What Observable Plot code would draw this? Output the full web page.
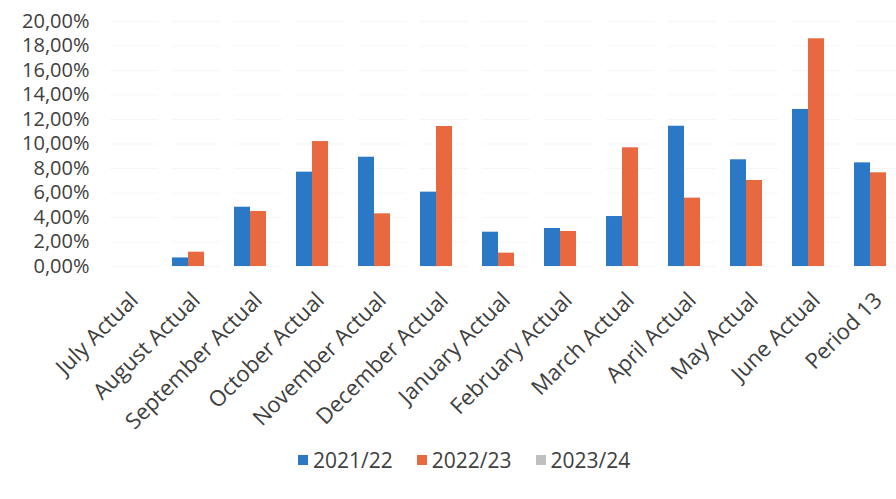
<!DOCTYPE html>
<html>
<head>
<meta charset="utf-8">
<script src="https://cdn.jsdelivr.net/npm/d3@7"></script>
<script src="https://cdn.jsdelivr.net/npm/@observablehq/plot@0.6"></script>
<style>
  html, body { margin: 0; padding: 0; background: #fff; overflow: hidden; width: 896px; height: 499px; }
  #chart { width: 896px; height: 446px; overflow: hidden; }
  #legend { position: absolute; left: 298px; top: 446px; display: flex; gap: 24px; font-family: "Open Sans", sans-serif; font-size: 21px; color: #404040; align-items: center; }
  .item { display: flex; align-items: center; gap: 5px; }
  .sw { width: 10px; height: 10px; display: inline-block; }
</style>
</head>
<body>
<div id="chart"></div>
<div id="legend"></div>
<script>
const categories = ["July Actual","August Actual","September Actual","October Actual","November Actual","December Actual","January Actual","February Actual","March Actual","April Actual","May Actual","June Actual","Period 13"];
const seriesNames = ["2021/22","2022/23","2023/24"];
const seriesColors = ["#2A78C6","#E8693F","#BFBFBF"];
const values2021_22 = [0, 0.70, 4.84, 7.70, 8.92, 6.07, 2.80, 3.10, 4.08, 11.45, 8.71, 12.82, 8.46];
const values2022_23 = [0, 1.17, 4.49, 10.20, 4.30, 11.43, 1.09, 2.86, 9.69, 5.58, 7.02, 18.59, 7.65];
const values2023_24 = [null, null, null, null, null, null, null, null, null, null, null, null, null];
const yTicks = [0, 0.02, 0.04, 0.06, 0.08, 0.10, 0.12, 0.14, 0.16, 0.18, 0.20];

const allSeries = [values2021_22, values2022_23, values2023_24];
const data = [];
categories.forEach((c, i) => {
  seriesNames.forEach((s, j) => {
    const v = allSeries[j][i];
    if (v != null) data.push({category: c, series: s, value: v / 100});
  });
});

const locale = d3.formatLocale({decimal: ",", thousands: ".", grouping: [3], currency: ["", "€"]});
const pct = locale.format(".2%");

const chart = Plot.plot({
  width: 896,
  height: 446,
  marginTop: 21,
  marginBottom: 180,
  marginLeft: 103,
  marginRight: 0,
  style: {fontFamily: "'Open Sans', sans-serif", fontSize: "21px", color: "#404040", background: "#fff"},
  fx: {domain: categories, range: [110, 902], paddingInner: 0.226, paddingOuter: 0, label: null},
  x: {domain: seriesNames, axis: null, padding: 0},
  y: {domain: [0, 0.2], ticks: yTicks, label: null},
  color: {domain: seriesNames, range: seriesColors},
  marks: [
    Plot.gridY(yTicks, {stroke: "#000", strokeOpacity: 0.035}),
    Plot.axisY(yTicks, {tickFormat: pct, tickSize: 0, tickPadding: 21, fontSize: 20, fill: "#404040", label: null}),
    Plot.axisFx({anchor: "bottom", tickRotate: -45, tickSize: 0, tickPadding: 30, fontSize: 22, fill: "#404040", label: null}),
    Plot.barY(data, {fx: "category", x: "series", y: "value", fill: "series"})
  ]
});
document.getElementById("chart").appendChild(chart);

const legend = document.getElementById("legend");
seriesNames.forEach((s, j) => {
  const item = document.createElement("div");
  item.className = "item";
  const sw = document.createElement("span");
  sw.className = "sw";
  sw.style.background = seriesColors[j];
  const t = document.createElement("span");
  t.textContent = s;
  item.appendChild(sw);
  item.appendChild(t);
  legend.appendChild(item);
});
</script>
</body>
</html>
